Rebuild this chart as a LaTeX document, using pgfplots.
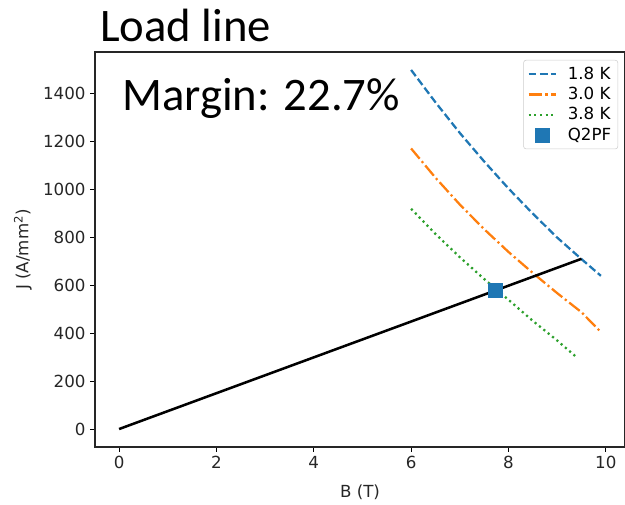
\documentclass[border=0pt]{standalone}
\usepackage{pgfplots}
\pgfplotsset{compat=1.18}
\usepackage{fontspec}
\setmainfont{DejaVu Sans}
\newfontfamily\calibri{Carlito}
\definecolor{c0}{HTML}{1F77B4}
\definecolor{c1}{HTML}{FF7F0E}
\definecolor{c2}{HTML}{2CA02C}
\begin{document}
\begin{tikzpicture}
\useasboundingbox (-71.25pt,-43.5pt) rectangle (397.5pt,335.25pt);
\begin{axis}[
  at={(0pt,0pt)}, anchor=south west, scale only axis,
  width=397.5pt, height=296.25pt,
  xmin=-0.495, xmax=10.395, ymin=-75, ymax=1575,
  xtick={0,2,4,6,8,10}, ytick={0,200,400,600,800,1000,1200,1400},
  tick align=outside, major tick length=3.6pt,
  tick style={black, line width=0.6pt},
  xtick pos=bottom, ytick pos=left,
  axis line style={black!85, line width=0.8pt},
  /pgf/number format/assume math mode=true,
  /pgf/number format/set thousands separator={},
  ticklabel style={font=\fontsize{12.5}{14}\selectfont, text=black!85},
  xlabel={B (T)}, ylabel={J (A/mm\textsuperscript{2})},
  every axis x label/.style={at={(axis description cs:0.5,-0.114)}, anchor=center, font=\fontsize{12.5}{14}\selectfont, text=black!85},
  every axis y label/.style={at={(axis description cs:-0.136,0.5)}, anchor=center, rotate=90, font=\fontsize{12.5}{14}\selectfont, text=black!85},
  legend style={at={(rel axis cs:0.987,0.98)}, anchor=north east,
    font=\fontsize{12.5}{14}\selectfont, draw=black!20, rounded corners=2pt,
    row sep=0.5pt, inner xsep=3pt, inner ysep=3pt,
    /tikz/every odd column/.append style={column sep=6pt}},
  legend cell align=left,
  legend image code/.code={\draw[mark repeat=2,mark phase=2,#1] plot coordinates {(0cm,0cm) (0.36cm,0cm) (0.72cm,0cm)};},
]
\addplot[c0, line width=1.7pt, dash pattern=on 5.8pt off 2.5pt, no markers] coordinates {
(6.0,1500) (6.5,1365) (7.0,1237) (7.5,1118) (8.0,1005) (8.5,900) (9.0,800) (9.5,710) (9.9,640)};
\addlegendentry{1.8 K}
\addplot[c1, line width=1.7pt, dash pattern=on 10pt off 2.5pt on 1.6pt off 2.5pt, no markers] coordinates {
(6.0,1172) (6.5,1050) (7.0,938) (7.5,835) (8.0,740) (8.5,652) (9.0,568) (9.5,488) (9.9,405)};
\addlegendentry{3.0 K}
\addplot[c2, line width=1.7pt, dash pattern=on 1.6pt off 2.6pt, no markers] coordinates {
(6.0,920) (6.5,815) (7.0,718) (7.5,627) (8.0,540) (8.5,452) (9.0,370) (9.4,300)};
\addlegendentry{3.8 K}
\addplot[only marks, mark=square*, mark size=5.25pt, mark options={fill=c0, draw=c0}] coordinates {(7.73,580)};
\addlegendentry{Q2PF}
\addplot[black, line width=1.9pt, no markers, forget plot] coordinates {(0,0) (9.5,711)};
\end{axis}
\node[anchor=base west, inner sep=0pt, font=\calibri\fontsize{35}{40}\selectfont] at (3.75pt,303.75pt) {Load line};
\node[anchor=base west, inner sep=0pt, font=\calibri\fontsize{35}{40}\selectfont] at (20.25pt,252pt) {Margin: 22.7\%};
\end{tikzpicture}
\end{document}
